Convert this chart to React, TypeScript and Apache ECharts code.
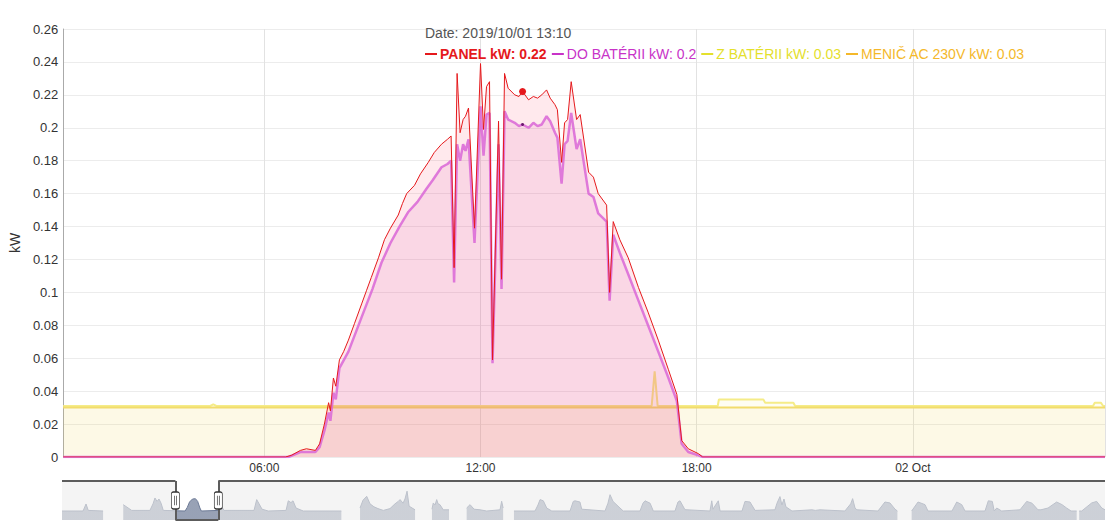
import React, { useEffect, useRef } from 'react';
import * as echarts from 'echarts';

// zobrazene okno hlavneho grafu
const viewStart = '01 00:25';
const viewEnd = '02 05:20';
const hoverTime = '01 13:10';

const seriesNames = ['PANEL kW', 'DO BATÉRII kW', 'Z BATÉRII kW', 'MENIČ AC 230V kW'];
const seriesColors = ['#e5191c', '#c833c8', '#e4e02c', '#f4b82a'];

// [den hh:mm (oktober 2019), kW]
const panelKw: [string, number][] = [
  ['01 00:25', 0], ['01 06:35', 0], ['01 06:45', 0.001], ['01 07:00', 0.004], ['01 07:10', 0.005],
  ['01 07:25', 0.004], ['01 07:32', 0.008], ['01 07:40', 0.02], ['01 07:47', 0.033], ['01 07:50', 0.028],
  ['01 07:55', 0.048], ['01 07:59', 0.043], ['01 08:05', 0.059], ['01 08:12', 0.064], ['01 08:20', 0.071],
  ['01 08:30', 0.081], ['01 08:42', 0.093], ['01 08:50', 0.101], ['01 08:58', 0.109], ['01 09:10', 0.121],
  ['01 09:20', 0.132], ['01 09:30', 0.139], ['01 09:43', 0.147], ['01 09:50', 0.154], ['01 09:57', 0.16],
  ['01 10:10', 0.165], ['01 10:20', 0.172], ['01 10:33', 0.179], ['01 10:43', 0.185], ['01 10:55', 0.19],
  ['01 11:05', 0.193], ['01 11:11', 0.195], ['01 11:16', 0.115], ['01 11:21', 0.233], ['01 11:26', 0.197],
  ['01 11:31', 0.205], ['01 11:35', 0.207], ['01 11:40', 0.212], ['01 11:50', 0.139], ['01 12:00', 0.239],
  ['01 12:05', 0.199], ['01 12:10', 0.225], ['01 12:15', 0.228], ['01 12:20', 0.059], ['01 12:30', 0.204],
  ['01 12:35', 0.108], ['01 12:40', 0.233], ['01 12:46', 0.224], ['01 12:57', 0.22], ['01 13:04', 0.219],
  ['01 13:10', 0.222], ['01 13:20', 0.217], ['01 13:28', 0.219], ['01 13:35', 0.218], ['01 13:42', 0.22],
  ['01 13:50', 0.223], ['01 13:56', 0.218], ['01 14:04', 0.214], ['01 14:08', 0.211], ['01 14:15', 0.179],
  ['01 14:20', 0.203], ['01 14:25', 0.205], ['01 14:31', 0.228], ['01 14:40', 0.205], ['01 14:46', 0.208],
  ['01 15:00', 0.173], ['01 15:08', 0.17], ['01 15:16', 0.16], ['01 15:30', 0.153], ['01 15:35', 0.1],
  ['01 15:41', 0.143], ['01 15:52', 0.132], ['01 16:06', 0.121], ['01 16:23', 0.103], ['01 16:39', 0.088],
  ['01 16:56', 0.071], ['01 17:13', 0.053], ['01 17:27', 0.038], ['01 17:35', 0.01], ['01 17:46', 0.005],
  ['01 18:03', 0.002], ['01 18:10', 0], ['02 05:20', 0],
];

const doBateriiKw: [string, number][] = [
  ['01 00:25', 0], ['01 06:40', 0], ['01 07:00', 0.003], ['01 07:25', 0.003], ['01 07:32', 0.006],
  ['01 07:40', 0.016], ['01 07:47', 0.027], ['01 07:50', 0.022], ['01 07:55', 0.039], ['01 07:59', 0.035],
  ['01 08:05', 0.054], ['01 08:20', 0.064], ['01 08:42', 0.085], ['01 09:00', 0.102], ['01 09:15', 0.118],
  ['01 09:30', 0.13], ['01 09:45', 0.14], ['01 10:00', 0.149], ['01 10:15', 0.155], ['01 10:30', 0.163],
  ['01 10:40', 0.168], ['01 10:55', 0.176], ['01 11:05', 0.178], ['01 11:11', 0.18], ['01 11:16', 0.106],
  ['01 11:21', 0.19], ['01 11:26', 0.18], ['01 11:31', 0.19], ['01 11:35', 0.186], ['01 11:40', 0.193],
  ['01 11:50', 0.13], ['01 12:00', 0.213], ['01 12:05', 0.183], ['01 12:10', 0.208], ['01 12:15', 0.209],
  ['01 12:20', 0.057], ['01 12:30', 0.19], ['01 12:35', 0.102], ['01 12:40', 0.21], ['01 12:46', 0.205],
  ['01 12:57', 0.203], ['01 13:04', 0.201], ['01 13:10', 0.202], ['01 13:20', 0.2], ['01 13:28', 0.203],
  ['01 13:35', 0.201], ['01 13:42', 0.202], ['01 13:50', 0.207], ['01 13:56', 0.204], ['01 14:04', 0.197],
  ['01 14:08', 0.194], ['01 14:15', 0.166], ['01 14:20', 0.19], ['01 14:25', 0.192], ['01 14:31', 0.209],
  ['01 14:40', 0.187], ['01 14:46', 0.193], ['01 15:00', 0.16], ['01 15:08', 0.158], ['01 15:16', 0.148],
  ['01 15:30', 0.143], ['01 15:35', 0.095], ['01 15:41', 0.135], ['01 15:52', 0.124], ['01 16:06', 0.111],
  ['01 16:23', 0.095], ['01 16:39', 0.08], ['01 16:56', 0.064], ['01 17:13', 0.048], ['01 17:27', 0.034],
  ['01 17:35', 0.008], ['01 17:46', 0.003], ['01 18:03', 0.001], ['01 18:10', 0], ['02 05:20', 0],
];

const zBateriiKw: [string, number][] = [
  ['01 00:25', 0.031], ['01 04:30', 0.031], ['01 04:35', 0.032], ['01 04:40', 0.031], ['01 16:45', 0.031],
  ['01 16:50', 0.052], ['01 16:55', 0.031], ['01 18:35', 0.031], ['01 18:37', 0.035], ['01 19:51', 0.035],
  ['01 19:54', 0.033], ['01 20:41', 0.033], ['01 20:44', 0.031], ['02 05:00', 0.031], ['02 05:03', 0.033],
  ['02 05:13', 0.033], ['02 05:17', 0.031], ['02 05:20', 0.031],
];

const menicKw: [string, number][] = [
  ['01 00:25', 0.03], ['01 07:45', 0.03], ['01 12:00', 0.03], ['01 18:00', 0.03], ['02 05:20', 0.03],
];

// prehlad celeho obdobia pre posuvnik: [hodiny od zaciatku, kW], null = chybajuce data
const overviewStart = '2019-09-27T19:55:00';
const overviewHours = 703.4;
const overviewKw: [number, number | null][] = [
  [0, 0], [14.2, 0], [16.2, 0.117], [17.7, 0.01], [27.7, 0], [28, null], [41.3, 0.106], [47, 0.01],
  [59.3, 0.01], [61.4, 0.12], [62.7, 0.217], [64.1, 0.16], [65.4, 0.2], [66.8, 0.13], [68.3, 0.01],
  [83, 0], [84.5, 0.06], [86, 0.15], [88, 0.2], [90, 0.205], [91.5, 0.16], [93, 0.05], [94, 0],
  [105.4, 0.01], [107.7, 0.07], [109.3, 0.01], [129.5, 0.01], [131.3, 0.19], [132.9, 0.12], [134.9, 0.03],
  [139.1, 0], [151.1, 0.01], [152.6, 0.17], [154.4, 0.14], [155.8, 0.17], [157.8, 0.05], [162.7, 0],
  [188.4, 0], [188.6, null], [201, 0.05], [203, 0.18], [205.5, 0.245], [207.7, 0.12], [210.4, 0.07],
  [213.1, 0.04], [216.7, 0.01], [221.2, 0.04], [224.6, 0.12], [226.8, 0.16], [228, 0.19], [230, 0.13],
  [231.3, 0.2], [232.7, 0.33], [234.1, 0.08], [238.1, 0.02], [238.5, null], [249.5, 0.03], [250.4, 0.134],
  [251.6, 0.1], [252.7, 0.19], [253.6, 0.12], [254.9, 0.106], [257.1, 0.02], [261, 0.02], [261.4, null],
  [272.9, 0.05], [275.2, 0.106], [277.9, 0.03], [281.9, 0.02], [286.4, 0], [295.4, 0.02], [296.5, 0.162],
  [297.5, 0.05], [297.8, null], [304.8, 0], [319, 0], [321, 0.1], [322.4, 0.19], [324.6, 0.17],
  [326.9, 0.05], [330.3, 0], [342.6, 0], [344.8, 0.16], [346, 0.17], [349.3, 0.15], [350.5, 0.03],
  [366.2, 0], [368.2, 0.13], [369.6, 0.272], [371.6, 0.16], [376.3, 0.05], [378.5, 0], [389.8, 0],
  [391.8, 0.13], [393.2, 0.17], [396.6, 0.13], [398.8, 0], [413.4, 0], [415.4, 0.15], [416.8, 0.17],
  [420.1, 0.022], [437, 0], [438.2, 0.17], [439, 0.03], [442.6, 0.17], [443.8, 0], [458.6, 0],
  [460.6, 0.16], [464, 0.15], [467.4, 0.01], [480.8, 0.02], [482.2, 0.13], [484.2, 0.24], [485.5, 0.1],
  [486.9, 0.2], [488.2, 0.07], [492.3, 0], [505.8, 0.02], [508, 0.01], [511.2, 0.02], [528, 0],
  [531.9, 0.12], [533.2, 0.206], [534.8, 0.05], [536.1, 0.02], [550.3, 0], [555, 0.15], [558.4, 0.134],
  [561.8, 0.03], [563.4, 0], [563.6, null], [573, 0], [577.3, 0.15], [582, 0.106], [584, 0], [600.2, 0],
  [603.4, 0.15], [606.8, 0.106], [609, 0], [622.5, 0], [624.7, 0.17], [627.4, 0.16], [628.7, 0],
  [630.4, 0.05], [633.7, 0], [646.1, 0.02], [650.6, 0.16], [654.2, 0.13], [658.2, 0.02], [660.2, 0.02],
  [665, 0.05], [670.8, 0.15], [674.4, 0.106], [677.5, 0.05], [680.5, 0], [684.3, 0], [684.5, null],
  [686, 0], [687.7, 0], [694.4, 0.134], [697.8, 0.16], [701.2, 0.05], [703.4, 0.02],
];

const MONTHS = ['Jan', 'Feb', 'Mar', 'Apr', 'May', 'Jun', 'Jul', 'Aug', 'Sep', 'Oct', 'Nov', 'Dec'];
const FONT = '"Liberation Sans", Arial, sans-serif';
const HOUR = 3600 * 1000;

const ts = (t: string) => new Date(`2019-10-${t.replace(' ', 'T')}:00`).getTime();
const pad = (n: number) => String(n).padStart(2, '0');
const toPoints = (list: [string, number][]) => list.map(([t, v]) => [ts(t), v]);

// hodnota serie v case t (na zobrazenie v hlavicke)
const valueAt = (list: [string, number][], t: number) => {
  for (let i = 1; i < list.length; i++) {
    const t0 = ts(list[i - 1][0]);
    const t1 = ts(list[i][0]);
    if (t >= t0 && t <= t1) {
      const k = t1 === t0 ? 0 : (t - t0) / (t1 - t0);
      return list[i - 1][1] + (list[i][1] - list[i - 1][1]) * k;
    }
  }
  return list[list.length - 1][1];
};

const App: React.FC = () => {
  const chartRef = useRef<HTMLDivElement>(null);

  useEffect(() => {
    if (!chartRef.current) return;
    const chart = echarts.init(chartRef.current, undefined, { renderer: 'svg' });

    const hoverTs = ts(hoverTime);
    const allData = [panelKw, doBateriiKw, zBateriiKw, menicKw];
    const hoverValues: Record<string, number> = {};
    seriesNames.forEach((name, i) => {
      hoverValues[name] = +valueAt(allData[i], hoverTs).toFixed(2);
    });
    const hd = new Date(hoverTs);
    const hoverLabel = `${hd.getFullYear()}/${pad(hd.getMonth() + 1)}/${pad(hd.getDate())} ${pad(hd.getHours())}:${pad(hd.getMinutes())}`;

    const ovStartMs = new Date(overviewStart).getTime();
    const winStartH = (ts(viewStart) - ovStartMs) / HOUR;
    const winEndH = (ts(viewEnd) - ovStartMs) / HOUR;
    const ovMin = -0.15;
    const ovMax = 0.5;
    const ovMid = (ovMin + ovMax) / 2;

    const areaColors = ['#ff2850', '#d23cb4', '#f5e050', '#f5d050'];
    const areaOpacity = [0.1, 0.1, 0.075, 0.075];
    const lineColors = ['#e5191c', 'rgba(214,110,230,0.85)', '#f5ec88', '#f2dc6c'];
    const lineWidths = [1, 2.5, 2, 2];
    const zs = [5, 4, 3, 3];

    const mainSeries = allData.map((list, i) => ({
      name: seriesNames[i],
      type: 'line',
      color: seriesColors[i],
      data: toPoints(list),
      showSymbol: false,
      symbol: 'none',
      z: zs[i],
      lineStyle: { color: lineColors[i], width: lineWidths[i] },
      areaStyle: { color: areaColors[i], opacity: areaOpacity[i] },
      silent: true,
      markPoint:
        i < 2
          ? {
              silent: true,
              symbol: 'circle',
              symbolSize: i === 0 ? 7 : 3,
              itemStyle: { color: i === 0 ? '#e5191c' : '#5a1870' },
              label: { show: false },
              data: [{ coord: [hoverTs, valueAt(list, hoverTs)] }],
            }
          : undefined,
    }));

    const option: any = {
      animation: false,
      textStyle: { fontFamily: FONT },
      title: {
        text: `Date: ${hoverLabel}`,
        left: 420,
        top: 26,
        padding: [0, 5],
        textStyle: { fontSize: 14, fontWeight: 'normal', color: '#555', fontFamily: FONT },
      },
      legend: {
        left: 420,
        top: 42,
        itemWidth: 12,
        itemHeight: 2,
        itemGap: 5,
        selectedMode: false,
        formatter: (name: string) => `${name}: ${hoverValues[name]}`,
        textStyle: { fontSize: 14, fontFamily: FONT, padding: [0, 0, 0, -2] },
        data: seriesNames.map((name, i) => ({
          name,
          icon: 'rect',
          itemStyle: { color: seriesColors[i] },
          textStyle: { color: seriesColors[i], fontWeight: i === 0 ? 'bold' : 'normal' },
        })),
      },
      grid: [
        { left: 62, right: 6, top: 29, bottom: 65 },
        { left: 62, right: 6, top: 481, height: 39, show: true, backgroundColor: '#f4f4f4', borderWidth: 0 },
      ],
      xAxis: [
        {
          type: 'time',
          gridIndex: 0,
          min: ts(viewStart),
          max: ts(viewEnd),
          // krok 6 h (popisky 06:00, 12:00, 18:00, 02 Oct)
          minInterval: 7 * HOUR,
          maxInterval: 7 * HOUR,
          axisLine: { show: false },
          axisTick: { show: false },
          splitLine: { show: true, lineStyle: { color: '#e2e2e2' } },
          axisLabel: {
            color: '#333',
            fontSize: 12,
            margin: 5,
            showMinLabel: false,
            showMaxLabel: false,
            formatter: (v: number) => {
              const d = new Date(v);
              if (d.getHours() === 0 && d.getMinutes() === 0) {
                return `${pad(d.getDate())} ${MONTHS[d.getMonth()]}`;
              }
              return `${pad(d.getHours())}:${pad(d.getMinutes())}`;
            },
          },
        },
        { type: 'value', gridIndex: 1, min: 0, max: overviewHours, show: false },
      ],
      yAxis: [
        {
          type: 'value',
          gridIndex: 0,
          min: 0,
          max: 0.26,
          interval: 0.02,
          name: 'kW',
          nameLocation: 'middle',
          nameGap: 41,
          nameTextStyle: { color: '#333', fontSize: 14 },
          axisLine: { show: true, lineStyle: { color: '#aaa' } },
          axisTick: { show: false },
          axisLabel: { color: '#333', fontSize: 13, margin: 5 },
          splitLine: { lineStyle: { color: '#ececec' } },
        },
        { type: 'value', gridIndex: 1, min: ovMin, max: ovMax, show: false },
      ],
      visualMap: {
        show: false,
        type: 'piecewise',
        seriesIndex: 4,
        dimension: 0,
        pieces: [
          { lt: winStartH, color: '#bcc1cb' },
          { gte: winStartH, lte: winEndH, color: '#6c7a96' },
          { gt: winEndH, color: '#bcc1cb' },
        ],
      },
      series: [
        ...mainSeries,
        {
          name: 'overview',
          type: 'line',
          xAxisIndex: 1,
          yAxisIndex: 1,
          data: overviewKw,
          showSymbol: false,
          symbol: 'none',
          silent: true,
          clip: false,
          lineStyle: { width: 1 },
          areaStyle: { origin: 'start', opacity: 0.7 },
          markArea: {
            silent: true,
            itemStyle: { color: '#fff' },
            data: [[{ coord: [winStartH, ovMin] }, { coord: [winEndH, ovMax] }]],
          },
          markLine: {
            silent: true,
            symbol: ['none', 'none'],
            label: { show: false },
            lineStyle: { color: '#5c5c5c', width: 2, type: 'solid' },
            data: [
              [{ coord: [0, ovMax] }, { coord: [winStartH, ovMax] }],
              [{ coord: [winEndH, ovMax] }, { coord: [overviewHours, ovMax] }],
              [{ coord: [winStartH, ovMax] }, { coord: [winStartH, ovMin] }],
              [{ coord: [winStartH, ovMin] }, { coord: [winEndH, ovMin] }],
              [{ coord: [winEndH, ovMin] }, { coord: [winEndH, ovMax] }],
            ],
          },
          markPoint: {
            silent: true,
            symbol: 'path://M2,0H6A2,2,0,0,1,8,2V16A2,2,0,0,1,6,18H2A2,2,0,0,1,0,16V2A2,2,0,0,1,2,0Z M3,4V14 M5,4V14',
            symbolSize: [8, 17],
            itemStyle: { color: '#fff', borderColor: '#333', borderWidth: 1 },
            label: { show: false },
            data: [{ coord: [winStartH, ovMid] }, { coord: [winEndH, ovMid] }],
          },
        },
      ],
    };

    chart.setOption(option);

    return () => {
      chart.dispose();
    };
  }, []);

  return (
    <div
      ref={chartRef}
      style={{ position: 'fixed', left: 0, top: 0, width: 1111, height: 522, background: '#fff' }}
    />
  );
};

export default App;
